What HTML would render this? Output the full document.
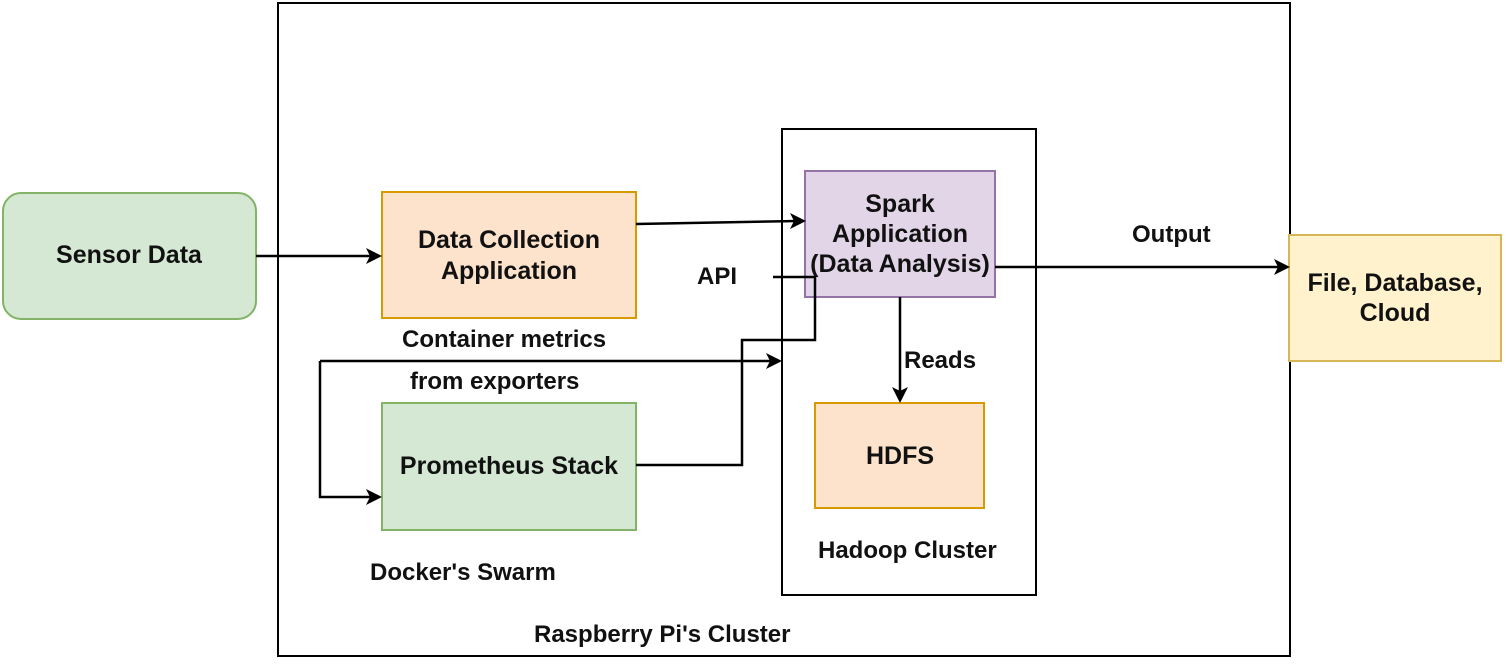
<!DOCTYPE html>
<html><head><style>
body{margin:0;background:#fff;}
svg text{font-family:"Liberation Sans",sans-serif;font-size:25px;fill:#111;font-weight:bold;}
svg text.l{font-size:24px;}
</style></head><body>
<svg width="1505" height="661" viewBox="0 0 1505 661">
<rect x="278" y="3" width="1012" height="653" fill="none" stroke="#000" stroke-width="2"/>
<rect x="782" y="129" width="254" height="466" fill="none" stroke="#000" stroke-width="2"/>
<rect x="3" y="193" width="253" height="126" rx="18" fill="#d5e8d4" stroke="#82b366" stroke-width="2"/>
<text x="129" y="263" text-anchor="middle">Sensor Data</text>
<rect x="382" y="192" width="254" height="126" fill="#fde3cb" stroke="#d79b00" stroke-width="2"/>
<text x="509" y="248" text-anchor="middle">Data Collection</text>
<text x="509" y="279" text-anchor="middle">Application</text>
<rect x="382" y="403" width="254" height="127" fill="#d5e8d4" stroke="#82b366" stroke-width="2"/>
<text x="509" y="474" text-anchor="middle">Prometheus Stack</text>
<rect x="805" y="171" width="190" height="126" fill="#e1d5e7" stroke="#9673a6" stroke-width="2"/>
<text x="900" y="212" text-anchor="middle">Spark</text>
<text x="900" y="242" text-anchor="middle">Application</text>
<text x="900" y="272" text-anchor="middle">(Data Analysis)</text>
<rect x="815" y="403" width="169" height="105" fill="#fde3cb" stroke="#d79b00" stroke-width="2"/>
<text x="900" y="464" text-anchor="middle">HDFS</text>
<rect x="1289" y="235" width="212" height="126" fill="#fff2cc" stroke="#d6b656" stroke-width="2"/>
<text x="1395" y="291" text-anchor="middle">File, Database,</text>
<text x="1395" y="321" text-anchor="middle">Cloud</text>
<g fill="none" stroke="#000" stroke-width="2.5">
<line x1="256" y1="256" x2="372" y2="256"/>
<polyline points="636,224 797,221"/>
<polyline points="995,267 1280,267"/>
<line x1="900" y1="297" x2="900" y2="394"/>
<polyline points="773,277 815,277 815,340 742,340 742,465 636,465"/>
<line x1="320" y1="361" x2="773" y2="361"/>
<polyline points="320,361 320,497 372,497"/>
</g>
<g fill="#000">
<path d="M382,256 L366,248 L370,256 L366,264 Z"/>
<path d="M806,221 L790,213 L794,221 L790,229 Z"/>
<path d="M1290,267 L1274,259 L1278,267 L1274,275 Z"/>
<path d="M782,361 L766,353 L770,361 L766,369 Z"/>
<path d="M382,497 L366,489 L370,497 L366,505 Z"/>
<path d="M900,403 L892,387 L900,391 L908,387 Z"/>
</g>
<text class="l" x="1132" y="242">Output</text>
<text class="l" x="697" y="284">API</text>
<text class="l" x="402" y="347">Container metrics</text>
<text class="l" x="410" y="389">from exporters</text>
<text class="l" x="904" y="368">Reads</text>
<text class="l" x="370" y="580">Docker's Swarm</text>
<text class="l" x="818" y="558">Hadoop Cluster</text>
<text class="l" x="534" y="642">Raspberry Pi's Cluster</text>
</svg>
</body></html>
